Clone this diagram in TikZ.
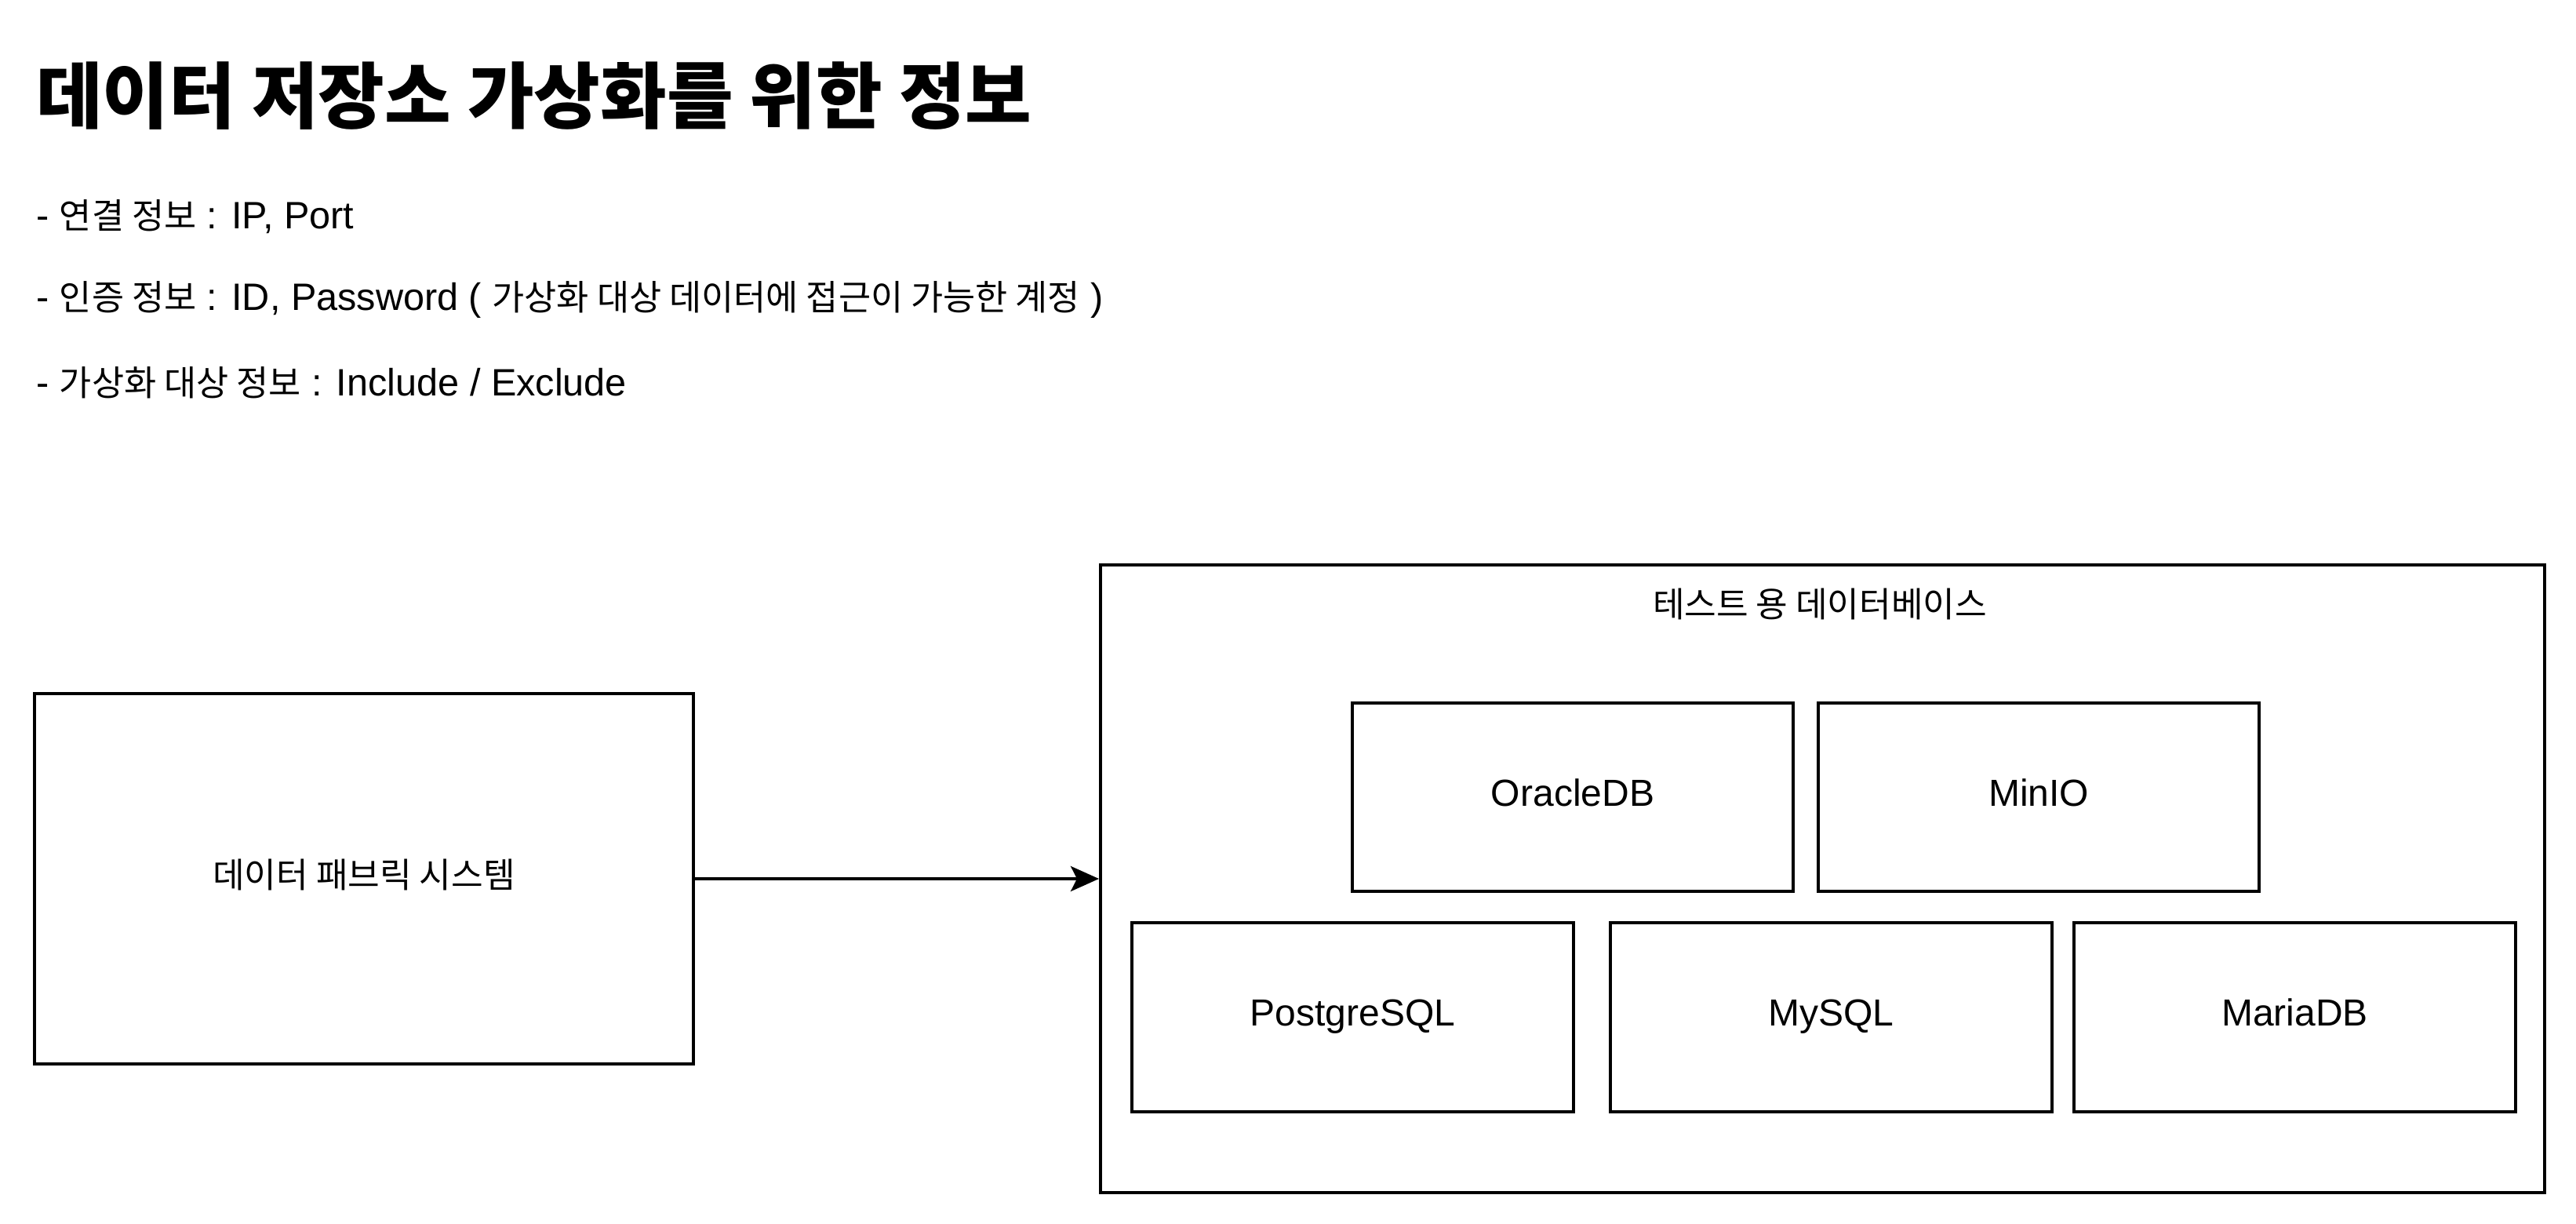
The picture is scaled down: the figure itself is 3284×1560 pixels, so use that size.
\documentclass[tikz,border=0pt]{standalone}
\usepackage{fontspec}
\setmainfont{Liberation Sans}
\newfontfamily\kr{Noto Sans CJK KR}[Scale=0.92]
\usetikzlibrary{arrows.meta}
\begin{document}
\begin{tikzpicture}[x=1pt,y=-1pt,
  box/.style={draw=black,line width=4pt,rectangle,inner sep=0pt,anchor=north west,
    text height=34.4pt,text depth=12pt,font=\fontsize{48}{58}\selectfont},
  bodytext/.style={anchor=west,inner sep=0pt,font=\fontsize{48.6}{58}\selectfont},
  conn/.style={line width=4pt,-{Stealth[length=36pt,width=32pt,inset=8pt]}}]
\useasboundingbox (0,0) rectangle (3284,1560);
\fill[white] (0,0) rectangle (3284,1560);
% title and info lines
\node[anchor=west,inner sep=0pt,font=\fontsize{100}{112}\selectfont\kr\bfseries] (title) at (46,122) {데이터 저장소 가상화를 위한 정보};
\node[bodytext] (l1) at (46,276) {- {\kr 연결 정보} : IP, Port};
\node[bodytext] (l2) at (46,382) {- {\kr 인증 정보} : ID, Password ( {\kr 가상화 대상 데이터에 접근이 가능한 계정} )};
\node[bodytext] (l3) at (46,488) {- {\kr 가상화 대상 정보} : Include / Exclude};
% boxes
\node[box,minimum width=840pt,minimum height=472pt] (fab) at (42,882) {\kr 데이터 패브릭 시스템};
\node[box,minimum width=1841pt,minimum height=800pt] (db) at (1401,718) {};
\node[anchor=center,inner sep=0pt,font=\fontsize{48}{58}\selectfont\kr] (dbt) at (2320,770) {테스트 용 데이터베이스};
\node[box,minimum width=562pt,minimum height=240pt] (ora) at (1722,894) {OracleDB};
\node[box,minimum width=562pt,minimum height=240pt] (minio) at (2316,894) {MinIO};
\node[box,minimum width=563pt,minimum height=241pt] (pg) at (1441,1174) {PostgreSQL};
\node[box,minimum width=563pt,minimum height=241pt] (my) at (2051,1174) {MySQL};
\node[box,minimum width=563pt,minimum height=241pt] (maria) at (2642,1174) {MariaDB};
\draw[conn] (fab.east) -- (db.west);
\end{tikzpicture}
\end{document}
